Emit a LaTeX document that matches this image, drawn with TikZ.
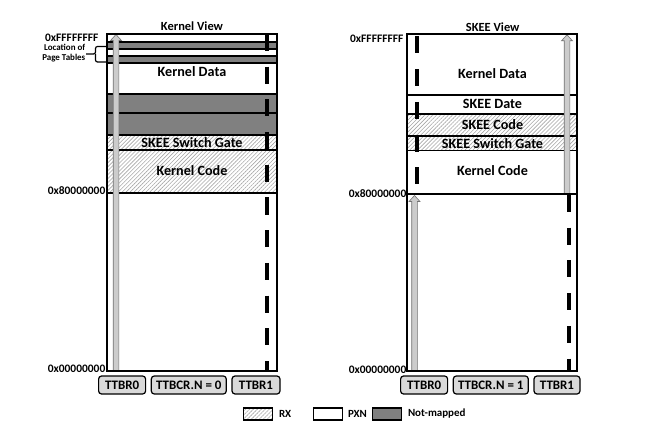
\documentclass[tikz,border=0pt]{standalone}
\usepackage{fontspec}
\setmainfont{Carlito}
\usetikzlibrary{chains,positioning,patterns.meta}

\begin{document}
\begin{tikzpicture}[x=1bp,y=-1bp]
\useasboundingbox (0,0) rectangle (661,433);

\tikzstyle{pxn}=[draw,fill=white,line width=1.3bp]
\tikzstyle{nomap}=[draw,fill=black!50,line width=1.3bp]
\tikzstyle{rx}=[draw,line width=1.3bp,pattern={Lines[angle=45,distance=2.8bp,line width=0.6bp]},pattern color=black!35]
\tikzstyle{viewbox}=[draw,line width=1.6bp]
\tikzstyle{viewname}=[font=\bfseries\fontsize{12.5}{14}\selectfont]
\tikzstyle{region}=[font=\bfseries\fontsize{14.2}{16}\selectfont]
\tikzstyle{addr}=[font=\bfseries\fontsize{11.5}{13}\selectfont,anchor=east,inner sep=0.5bp]
\tikzstyle{regbtn}=[draw,fill=black!15,rounded corners=3bp,line width=1.2bp,minimum height=18bp,inner sep=1bp,font=\bfseries\fontsize{13}{15}\selectfont]
\tikzstyle{tbline}=[line width=4bp,dash pattern=on 17bp off 15.7bp]
\tikzstyle{ttbrarrow}=[fill=black!20,draw=black!55,line width=0.6bp]
\tikzstyle{keybox}=[minimum width=29bp,minimum height=12bp,inner sep=0pt]
\tikzstyle{keytext}=[font=\bfseries\fontsize{11}{12}\selectfont,inner sep=0.5bp]

%% gray arrow going up: x, bottom, tip
\def\ttbrup#1#2#3{%
  \filldraw[ttbrarrow] ({#1-2.8},#2) -- ({#1-2.8},{#3+6}) -- ({#1-5.5},{#3+6})
    -- (#1,#3) -- ({#1+5.5},{#3+6}) -- ({#1+2.8},{#3+6}) -- ({#1+2.8},#2) -- cycle;}

%% Kernel view
\begin{scope}[shift={(107,34)}]
    \draw[pxn] (0,0) rectangle (170,8);
    \draw[nomap] (0,8) rectangle (170,15);
    \draw[pxn] (0,15) rectangle (170,22);
    \draw[nomap] (0,22) rectangle (170,29);
    \draw[pxn] (0,29) rectangle (170,60);
    \draw[nomap] (0,60) rectangle (170,79);
    \draw[nomap] (0,79) rectangle (170,101);
    \draw[rx] (0,101) rectangle (170,116);
    \draw[rx] (0,116) rectangle (170,159);
    \draw[pxn] (0,159) rectangle (170,337);
    \node[region] (kdata) at (85,37.7) {Kernel Data};
    \node[region] (kgate) at (85,108.7) {SKEE Switch Gate};
    \node[region] (kcode) at (85,136.7) {Kernel Code};
    \draw[tbline] (160,0) -- (160,336);
    \ttbrup{9}{337}{0.5}
    \draw[viewbox] (0,0) rectangle (170,337);
\end{scope}

%% SKEE view
\begin{scope}[shift={(407,34)}]
    \draw[pxn] (0,0) rectangle (170,61);
    \draw[pxn] (0,61) rectangle (170,80);
    \draw[rx] (0,80) rectangle (170,102);
    \draw[rx] (0,102) rectangle (170,116.5);
    \draw[pxn] (0,116.5) rectangle (170,160);
    \draw[pxn] (0,160) rectangle (170,337);
    \node[region] (sdata) at (85.5,39.3) {Kernel Data};
    \node[region] (sdate) at (85.5,70.3) {SKEE Date};
    \node[region] (scodeskee) at (85.5,90.3) {SKEE Code};
    \node[region] (sgate) at (85.5,109.3) {SKEE Switch Gate};
    \node[region] (scode) at (85.5,137) {Kernel Code};
    \draw[tbline] (10,2.5) -- (10,160);
    \draw[tbline] (162,161) -- (162,336);
    \ttbrup{160}{160}{0.8}
    \ttbrup{7.5}{337}{161.5}
    \draw[line width=2.8bp] (0,160) -- (170,160);
    \draw[viewbox] (0,0) rectangle (170,337);
\end{scope}

%% View names
\node[viewname] (kview) at (192,26.5) {Kernel View};
\node[viewname] (sview) at (492.7,27) {SKEE View};

%% Addresses
\node[addr] (khigh) at (99,37.5) {0xFFFFFFFF};
\node[addr] (kmid) at (106,191) {0x80000000};
\node[addr] (klow) at (106,369) {0x00000000};
\node[addr] (shigh) at (404,38.5) {0xFFFFFFFF};
\node[addr] (smid) at (407,194) {0x80000000};
\node[addr] (slow) at (407,370) {0x00000000};

%% Page tables
\node[font=\bfseries\fontsize{9}{10.5}\selectfont,align=right,anchor=east,inner sep=0.5bp] (ptloc) at (86,53) {Location of\\Page Tables};
\draw[line width=1.2bp,rounded corners=2bp] (107,46.5) -- (95.5,46.5) -- (95.5,54) -- (ptloc.east |- 0,54);
\draw[line width=1.2bp,rounded corners=2bp] (95.5,54) -- (95.5,62) -- (107,62);

%% Registers below kernel view
\begin{scope}[start chain=1 going right,node distance=4.5bp]
    \node [on chain=1,regbtn,minimum width=47bp,anchor=west] (kttbr0) at (98,385) {TTBR0};
    \node [on chain=1,regbtn,minimum width=75bp] (kttbcr) {TTBCR.N = 0};
    \node [on chain=1,regbtn,minimum width=48bp] (kttbr1) {TTBR1};
\end{scope}

%% Registers below SKEE view
\begin{scope}[start chain=2 going right,node distance=4.5bp]
    \node [on chain=2,regbtn,minimum width=47bp,anchor=west] (sttbr0) at (400,385) {TTBR0};
    \node [on chain=2,regbtn,minimum width=75bp] (sttbcr) {TTBCR.N = 1};
    \node [on chain=2,regbtn,minimum width=46bp] (sttbr1) {TTBR1};
\end{scope}

%% Legend
\node[rx,keybox,anchor=west] (rxkey) at (243,414) {};
\node[keytext,right=5bp of rxkey] (rxtext) {RX};
\node[pxn,keybox,anchor=west] (pxnkey) at (313,414) {};
\node[keytext,right=4bp of pxnkey] (pxntext) {PXN};
\node[nomap,keybox,anchor=west] (nomapkey) at (372,414) {};
\node[keytext,right=5bp of nomapkey] (nomaptext) {Not-mapped};
\end{tikzpicture}
\end{document}
